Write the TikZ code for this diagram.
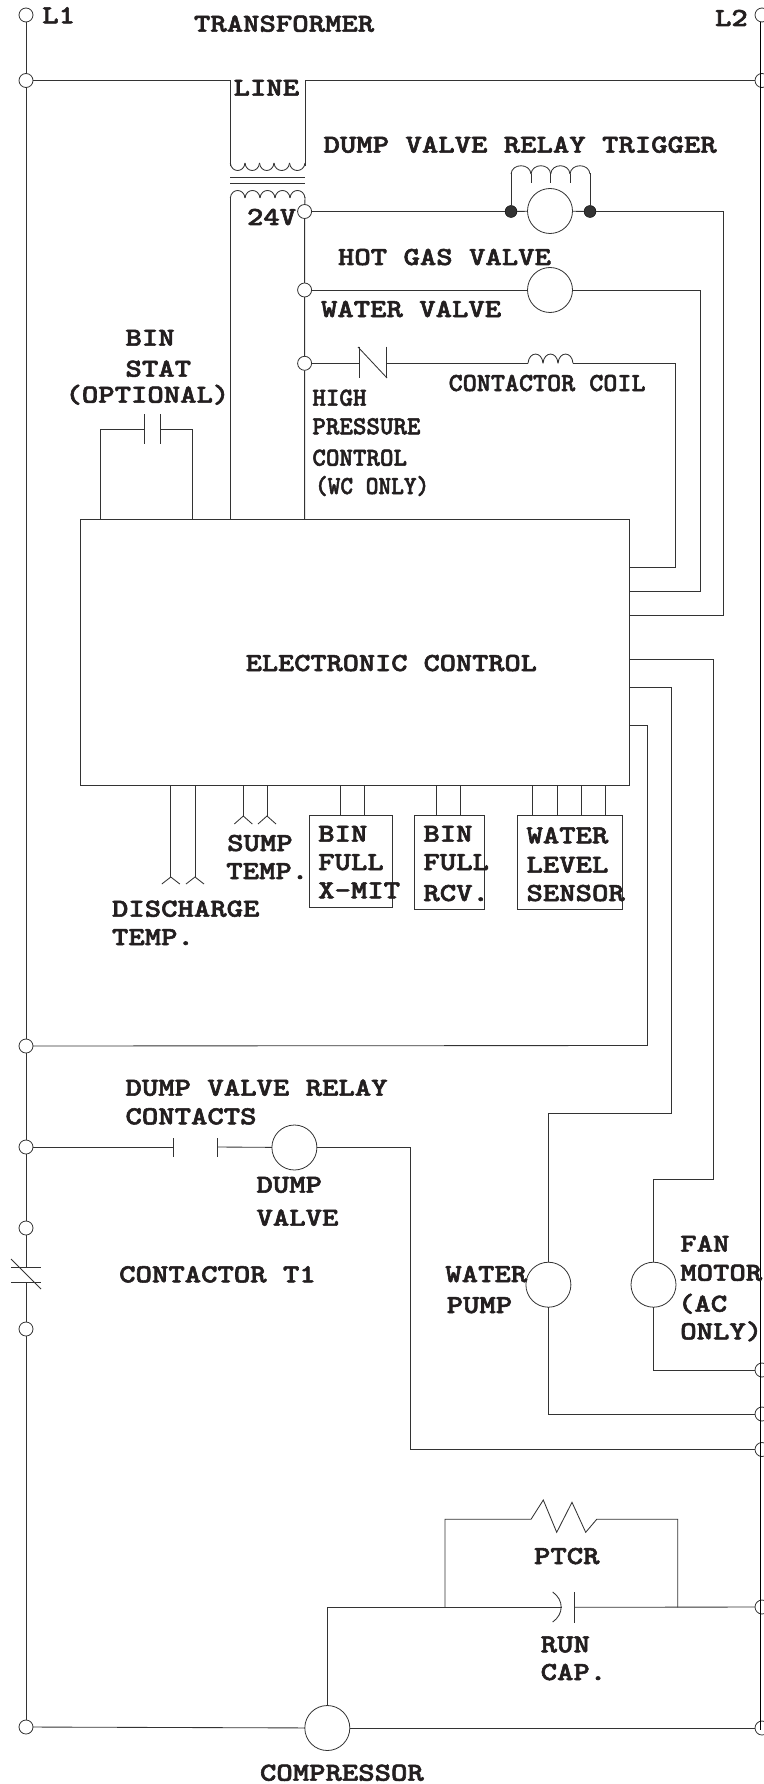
\documentclass[tikz,border=0pt]{standalone}
\usepackage{graphicx}
\usepackage{fontspec}
\newfontfamily\lblfont{lmmonolt10-bold.otf}[FakeBold=2]
\definecolor{wire}{HTML}{333333}
\definecolor{ink}{HTML}{231F20}
\newcommand{\bt}[2][1.2]{\scalebox{#1}[1]{#2}}
\tikzset{
  x=1pt,y=-1pt,
  wireline/.style={draw=wire,line width=0.85pt},
  lbl/.style={anchor=base west,inner sep=0pt,outer sep=0pt,text=ink,font=\fontsize{26}{26}\selectfont\lblfont},
  term/.style={circle,draw=wire,fill=white,line width=0.8pt,minimum size=14pt,inner sep=0pt,outer sep=0pt},
  motor/.style={circle,draw=wire,fill=white,line width=0.8pt,minimum size=45pt,inner sep=0pt,outer sep=0pt},
  dot/.style={circle,draw=black,fill=black!80,line width=0.4pt,minimum size=12pt,inner sep=0pt,outer sep=0pt},
  panel/.style={rectangle,draw=wire,line width=0.9pt,inner sep=0pt,outer sep=0pt},
}
\newcommand{\hump}[4]{\draw[wireline] (#1,#3) .. controls (#1+1,#4) and (#2-1,#4) .. (#2,#3);}
\begin{document}
\begin{tikzpicture}
\useasboundingbox (0,0) rectangle (763,1784);
% terminals
\foreach \n/\yy in {lt/15,la/80.5,lb/1046,lc/1147,ld/1228,le/1329,lf/1727}{\node[term] (\n) at (26,\yy) {};}
\foreach \n/\yy in {rt/15,ra/80.5,rb/1370,rc/1414,rd/1449.5,re/1607,rf/1728}{\node[term] (\n) at (762,\yy) {};}
\node[term] (s1) at (304.6,211.5) {};
\node[term] (s2) at (304.6,290) {};
\node[term] (s3) at (304.6,363.3) {};
% motors
\node[motor] (mrel) at (550,211) {};
\node[motor] (mhot) at (550,290) {};
\node[motor] (mdump) at (294.4,1147.5) {};
\node[motor] (mpump) at (548.4,1284.7) {};
\node[motor] (mfan) at (653.5,1284.7) {};
\node[motor] (mcomp) at (327.3,1728) {};
\node[dot] (dl) at (511,211.5) {};
\node[dot] (dr) at (590,211.5) {};
% boxes
\node[panel,minimum width=548.7pt,minimum height=265.7pt] (ec) at (354.65,652.2) {};
\node[panel,minimum width=83.2pt,minimum height=92.4pt] (bx) at (351.1,861.5) {};
\node[panel,minimum width=70.1pt,minimum height=94.4pt] (br) at (449.65,862.5) {};
\node[panel,minimum width=105.1pt,minimum height=94.4pt] (bw) at (569.85,862.5) {};
% named points
\foreach \n/\a/\b in {cpa/173/1147,cpb/217/1147,bsa/144.5/429.3,bsb/160/429.3,hpa/359.6/363.3,hpb/386/363.3,cca/528/363.3,ccb/573/363.3,tul/230.3/166,tur/305/166,tll/230.3/197,tlr/305/197,ra1/531/1519.3,ra2/596.7/1519.3,cpl/561.7/1607.3,cpr/574.3/1607.3,dcha/170.8/877,dchb/195/877,sma/243.3/816,smb/267/816,rcl/511/173,rcr/590/173,ptl/445/1607.3,ptr/677.7/1607.3,ctu/26/1267,ctl/26/1282.7}{\coordinate (\n) at (\a,\b);}
% rails
\draw[wireline] (lt) -- (la) -- (lb) -- (lc) -- (ld) -- (ctu);
\draw[wireline] (ctl) -- (le) -- (lf);
\draw[wireline] (11,1267) -- (41,1267);
\draw[wireline] (11,1282.7) -- (41,1282.7);
\draw[wireline] (11,1259) -- (41,1289);
% transformer
\draw[wireline] (la) -- (230.3,80.5) -- (tul);
\draw[wireline] (ra) -- (305,80.5) -- (tur);
\foreach \a/\b in {230.3/245,245/259.5,259.5/274,274/289.5,289.5/305}{\hump{\a}{\b}{163}{173}}
\draw[wireline] (230.3,177.3) -- (305,177.3);
\draw[wireline] (230.3,183.7) -- (305,183.7);
\foreach \a/\b in {230.3/245,245/260,260/275,275/290,290/305}{\hump{\a}{\b}{198}{188}}
\draw[wireline] (tll) -- (tll |- ec.north);
\draw[wireline] (tlr) -- (s1) -- (s2) -- (s3) -- (s3 |- ec.north);
% relay
\draw[wireline] (s1) -- (dl);
\draw[wireline] (dl) -- (mrel);
\draw[wireline] (mrel) -- (dr);
\draw[wireline] (dr) -- (723.6,211.5) -- (723.6,615.5) -- (ec.east |- 0,615.5);
\draw[wireline] (dl) -- (rcl);
\draw[wireline] (dr) -- (rcr);
\foreach \a/\b in {511/531,531/550.7,550.7/570,570/590}{\hump{\a}{\b}{174}{163}}
\foreach \a in {531,550.7,570}{\draw[wireline] (\a,174) -- (\a,183);}
% hot gas
\draw[wireline] (s2) -- (mhot);
\draw[wireline] (mhot) -- (700,290) -- (700,591.7) -- (ec.east |- 0,591.7);
% high pressure + contactor coil
\draw[wireline] (s3) -- (hpa);
\draw[wireline] (hpa |- 0,346.7) -- (hpa |- 0,378);
\draw[wireline] (hpb |- 0,346.7) -- (hpb |- 0,378);
\draw[wireline] (358,347) -- (387,378);
\draw[wireline] (hpb) -- (cca);
\foreach \a/\b in {528/543,543/558,558/573}{\hump{\a}{\b}{363.3}{351}}
\draw[wireline] (ccb) -- (675.4,363.3) -- (675.4,567.7) -- (ec.east |- 0,567.7);
% bin stat
\draw[wireline] (100.7,519.3) -- (100.7,429.3) -- (bsa);
\draw[wireline] (192.7,519.3) -- (192.7,429.3) -- (bsb);
\draw[wireline] (bsa |- 0,414) -- (bsa |- 0,444);
\draw[wireline] (bsb |- 0,414) -- (bsb |- 0,444);
% outputs to lower ladder
\draw[wireline] (ec.east |- 0,659) -- (713,659) -- (713,1179) -- (653.5,1179) -- (mfan);
\draw[wireline] (mfan) -- (653.5,1370) -- (rb);
\draw[wireline] (ec.east |- 0,687) -- (671.5,687) -- (671.5,1113) -- (548.4,1113) -- (mpump);
\draw[wireline] (mpump) -- (548.4,1414) -- (rc);
\draw[wireline] (ec.east |- 0,725.5) -- (647.5,725.5) -- (647.5,1045.5) -- (lb);
% dump valve
\draw[wireline] (lc) -- (cpa);
\draw[wireline] (cpa |- 0,1138) -- (cpa |- 0,1157);
\draw[wireline] (cpb |- 0,1138) -- (cpb |- 0,1157);
\draw[wireline] (cpb) -- (mdump);
\draw[wireline] (mdump) -- (410,1147.5) -- (410,1449.5) -- (rd);
% sensors
\foreach \xx in {170.8,195}{\draw[wireline] (\xx,785) -- (\xx,877);\draw[wireline] (\xx-9,884) -- (\xx,877) -- (\xx+9,884);}
\foreach \xx in {243.3,267}{\draw[wireline] (\xx,785) -- (\xx,816);\draw[wireline] (\xx-9,824) -- (\xx,816) -- (\xx+9,824);}
\foreach \xx in {340,364}{\draw[wireline] (\xx,785) -- (\xx,815.3);}
\foreach \xx in {436.5,460.3}{\draw[wireline] (\xx,785) -- (\xx,815.3);}
\foreach \xx in {532.8,557,581,605.4}{\draw[wireline] (\xx,785) -- (\xx,815.3);}
% compressor branch
\draw[wireline] (lf) -- (mcomp);
\draw[wireline] (mcomp) -- (rf);
\draw[wireline] (mcomp) -- (327.3,1607.3) -- (cpl);
\draw[wireline] (cpr) -- (re);
\draw[wireline] (552.7,1592) .. controls (564,1600) and (564,1614) .. (552.7,1622);
\draw[wireline] (cpr |- 0,1592) -- (cpr |- 0,1623);
\draw[wireline] (ptl) -- (445,1519.3) -- (ra1) -- (543.3,1500) -- (556.7,1532.3) -- (572,1502.3) -- (585.7,1532.3) -- (ra2) -- (677.7,1519.3) -- (ptr);
% L2 rail
\draw[draw=black,line width=1.7pt] (760.6,22) -- (760.6,1730);
% labels
\node[lbl] (t1) at (42.3,23.3) {\bt{L1}};
\node[lbl] (t2) at (715,26) {\bt{L2}};
\node[lbl] (t3) at (194,31.7) {\bt{TRANSFORMER}};
\node[lbl] (t4) at (233.6,95.7) {\bt{LINE}};
\node[lbl] (t5) at (323.6,152.7) {\bt{DUMP VALVE RELAY TRIGGER}};
\node[lbl] (t6) at (247,225) {\bt{24V}};
\node[lbl] (t7) at (338,265) {\bt{HOT GAS VALVE}};
\node[lbl] (t8) at (321,317) {\bt{WATER VALVE}};
\node[lbl] (t9) at (125.5,345.7) {\bt{BIN}};
\node[lbl] (t10) at (125.5,376.7) {\bt{STAT}};
\node[lbl] (t11) at (65.5,402.7) {\bt{(OPTIONAL)}};
\node[lbl] (t12) at (312.4,405.7) {\bt[0.99]{HIGH}};
\node[lbl] (t13) at (312.4,434.3) {\bt[0.99]{PRESSURE}};
\node[lbl] (t14) at (312.4,465.7) {\bt[0.99]{CONTROL}};
\node[lbl] (t15) at (315,494) {\bt[0.93]{(WC ONLY)}};
\node[lbl] (t16) at (448.7,391) {\bt[1.03]{CONTACTOR COIL}};
\node[lbl] (t17) at (245.7,671) {\bt[1.185]{ELECTRONIC CONTROL}};
\node[lbl] (t18) at (227.2,851) {\bt{SUMP}};
\node[lbl] (t19) at (226.3,879) {\bt{TEMP.}};
\node[lbl] (t20) at (112,916.7) {\bt{DISCHARGE}};
\node[lbl] (t21) at (112,945) {\bt{TEMP.}};
\node[lbl] (t22) at (318.2,841.7) {\bt{BIN}};
\node[lbl] (t23) at (318.2,870) {\bt{FULL}};
\node[lbl] (t24) at (318.2,898.3) {\bt{X-MIT}};
\node[lbl] (t25) at (423.4,841.7) {\bt{BIN}};
\node[lbl] (t26) at (423.4,870) {\bt{FULL}};
\node[lbl] (t27) at (423.4,901) {\bt{RCV.}};
\node[lbl] (t28) at (526.5,843.3) {\bt{WATER}};
\node[lbl] (t29) at (526.5,872.7) {\bt{LEVEL}};
\node[lbl] (t30) at (526.5,901) {\bt{SENSOR}};
\node[lbl] (t31) at (125.5,1095.7) {\bt{DUMP VALVE RELAY}};
\node[lbl] (t32) at (125.5,1124.3) {\bt{CONTACTS}};
\node[lbl] (t33) at (256.5,1192.7) {\bt{DUMP}};
\node[lbl] (t34) at (256.5,1225.7) {\bt{VALVE}};
\node[lbl] (t35) at (119.2,1282.3) {\bt{CONTACTOR T1}};
\node[lbl] (t36) at (445.3,1282) {\bt{WATER}};
\node[lbl] (t37) at (446.7,1313) {\bt{PUMP}};
\node[lbl] (t38) at (680.3,1251.7) {\bt{FAN}};
\node[lbl] (t39) at (680.3,1280.7) {\bt{MOTOR}};
\node[lbl] (t40) at (678,1311.7) {\bt{(AC}};
\node[lbl] (t41) at (680.3,1339.3) {\bt{ONLY)}};
\node[lbl] (t42) at (534,1564) {\bt{PTCR}};
\node[lbl] (t43) at (540.7,1652.3) {\bt{RUN}};
\node[lbl] (t44) at (540.7,1680) {\bt{CAP.}};
\node[lbl] (t45) at (260,1780.7) {\bt{COMPRESSOR}};
\end{tikzpicture}
\end{document}
